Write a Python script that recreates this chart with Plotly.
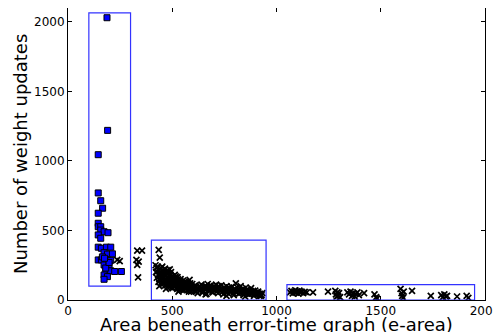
import plotly.graph_objects as go

# Blue squares (first cluster)
sq_x = [187, 190, 145, 145, 157, 166, 145, 145, 145, 157, 157, 173, 192, 145, 157,
        145, 160, 184, 205, 173, 189, 213, 145, 160, 184, 205, 173, 197, 181, 205,
        224, 256, 173, 189, 173, 181, 197, 165, 175]
sq_y = [2030, 1220, 1045, 770, 714, 660, 624, 552, 527, 527, 503, 491, 484, 468, 444,
        380, 372, 380, 380, 340, 330, 332, 288, 288, 290, 285, 252, 252, 210, 210,
        205, 205, 180, 168, 149, 230, 270, 310, 300]

# Black crosses: near first cluster
c1_x = [332, 355, 328, 339, 332, 336, 236, 248]
c1_y = [355, 355, 288, 276, 252, 163, 288, 280]

# Black crosses: second cluster
c2_x = [420, 425, 428, 432, 435, 440, 438, 442, 445, 448, 450, 452, 455, 458, 460, 462,
        465, 468, 470, 472, 475, 478, 480, 482, 485, 488, 490, 492, 495, 498, 500, 502,
        505, 508, 512, 515, 518, 520, 525, 528, 532, 535, 540, 545, 548, 552, 555, 560,
        565, 570, 575, 580, 583, 588, 592, 596,
        602, 608, 612, 618, 622, 628, 634, 640, 645, 650, 655, 660, 665, 670, 675, 680,
        685, 690, 695, 700,
        705, 710, 715, 720, 725, 730, 735, 740, 745, 750, 755, 760, 765, 770, 775, 780,
        785, 790, 795, 800,
        805, 808, 812, 818, 822, 828, 832, 838, 842, 848, 852, 858, 862, 868, 872, 878,
        882, 888, 892, 898, 902, 908, 912, 918, 922, 928, 932, 438, 470, 530, 660, 760, 850,
        422, 426, 430, 434, 437, 441, 444, 447, 451, 454, 457, 461, 464, 467, 471, 474,
        477, 481, 484, 487, 491, 494, 497, 499,
        503, 507, 511, 514, 517, 521, 524, 527, 531, 534, 538, 542, 546, 550, 554, 558,
        562, 567, 572, 577, 582, 586, 590, 594, 598,
        605, 615, 625, 632, 642, 652, 662, 672, 682, 692, 702, 712, 722, 732, 742, 752,
        762, 772, 782, 792, 802, 815, 825, 835, 845, 855, 865, 875, 885, 895, 905, 915, 925]
c2_y = [250, 230, 205, 180, 360, 305, 150, 220, 195, 170, 130, 240, 210, 185, 160, 120,
        225, 200, 175, 140, 110, 215, 190, 160, 130, 220, 95, 180, 150, 120, 170, 85,
        140, 110, 180, 155, 125, 90, 165, 135, 100, 75, 150, 120, 90, 140, 70, 110,
        130, 85, 105, 60, 145, 95, 75, 115,
        90, 65, 105, 80, 50, 95, 70, 110, 85, 60, 100, 75, 45, 115, 90, 65,
        105, 80, 55, 100,
        70, 110, 85, 50, 95, 65, 105, 80, 40, 90, 60, 100, 75, 45, 85, 55,
        95, 70, 35, 80,
        120, 60, 90, 45, 75, 100, 55, 80, 35, 65, 90, 50, 75, 40, 60, 85,
        45, 65, 30, 67, 50, 40, 60, 30, 45, 35, 50, 100, 80, 60, 40, 30, 25,
        200, 160, 240, 130, 210, 175, 145, 230, 190, 115, 170, 200, 140, 105, 195, 160,
        125, 100, 175, 145, 115, 200, 90, 140,
        160, 125, 95, 140, 170, 115, 80, 150, 120, 90, 135, 100, 70, 115, 95, 130,
        80, 100, 120, 75, 95, 120, 60, 90, 70,
        100, 60, 75, 100, 55, 90, 100, 70, 95, 60, 85, 60, 100, 80, 60, 75,
        55, 90, 70, 50, 60, 70, 50, 65, 55, 70, 55, 45, 55, 45, 55, 45, 30]

# Black crosses: third cluster
c3_x = [1065, 1072, 1078, 1085, 1090, 1095, 1100, 1105, 1110, 1115, 1120, 1128, 1135,
        1145, 1175, 1247, 1282, 1285, 1288, 1292, 1295, 1300, 1305, 1340, 1348, 1355,
        1362, 1368, 1375, 1380, 1388, 1395, 1420, 1470, 1478, 1482, 1595, 1600, 1603,
        1607, 1610, 1650, 1740, 1790, 1798, 1805, 1812, 1818, 1866, 1912, 1920]
c3_y = [55, 65, 48, 60, 70, 52, 62, 45, 68, 55, 60, 50, 58,
        55, 55, 60, 65, 40, 25, 55, 30, 50, 20, 55, 40, 60,
        30, 50, 25, 45, 55, 35, 50, 40, 20, 10, 80, 50, 30,
        15, 60, 65, 30, 35, 20, 40, 25, 30, 25, 30, 15]

# Highlight boxes
box_x0 = [100, 400, 1050]
box_x1 = [300, 950, 1950]
box_y0 = [100, 0, 0]
box_y1 = [2065, 430, 110]

x_ticks = [0, 500, 1000, 1500, 2000]
y_ticks = [0, 500, 1000, 1500, 2000]

x_title = "Area beneath error-time graph (e-area)"
y_title = "Number of weight updates"

cross_x = c1_x + c2_x + c3_x
cross_y = c1_y + c2_y + c3_y

fig = go.Figure()
fig.add_trace(go.Scatter(
    x=cross_x, y=cross_y, mode="markers",
    marker=dict(symbol="x-thin", size=6, line=dict(color="black", width=1.7)),
    showlegend=False, hoverinfo="skip"))
fig.add_trace(go.Scatter(
    x=sq_x, y=sq_y, mode="markers",
    marker=dict(symbol="square", size=6, color="#0000ff",
                line=dict(color="black", width=1)),
    showlegend=False, hoverinfo="skip"))

for x0, x1, y0, y1 in zip(box_x0, box_x1, box_y0, box_y1):
    fig.add_shape(type="rect", xref="x", yref="y", x0=x0, x1=x1, y0=y0, y1=y1,
                  line=dict(color="#3333ff", width=1.2), fillcolor="rgba(0,0,0,0)")

axis_common = dict(
    showline=True, linecolor="black", linewidth=1, mirror="ticks",
    ticks="inside", ticklen=4, tickcolor="black", tickwidth=1,
    showgrid=False, zeroline=False, automargin=False,
    tickfont=dict(family="DejaVu Sans", size=12, color="black"),
)

fig.update_xaxes(range=[0, 2000], tickvals=x_ticks, ticktext=[str(v) for v in x_ticks],
                 **axis_common)
fig.update_yaxes(range=[0, 2100], tickvals=y_ticks, ticktext=[str(v) for v in y_ticks],
                 **axis_common)

title_font = dict(family="DejaVu Sans", size=18, color="black")
fig.add_annotation(text=x_title, xref="paper", yref="paper", x=0.5, y=0,
                   xanchor="center", yanchor="top", yshift=-12,
                   showarrow=False, font=title_font)
fig.add_annotation(text=y_title, xref="paper", yref="paper", x=0, y=0.5,
                   xanchor="center", yanchor="middle", xshift=-48, textangle=-90,
                   showarrow=False, font=title_font)

fig.update_layout(
    width=501, height=332,
    margin=dict(l=60, r=24, t=0, b=40),
    plot_bgcolor="white", paper_bgcolor="white",
    font=dict(family="DejaVu Sans"),
)

fig.write_html("out.html")
